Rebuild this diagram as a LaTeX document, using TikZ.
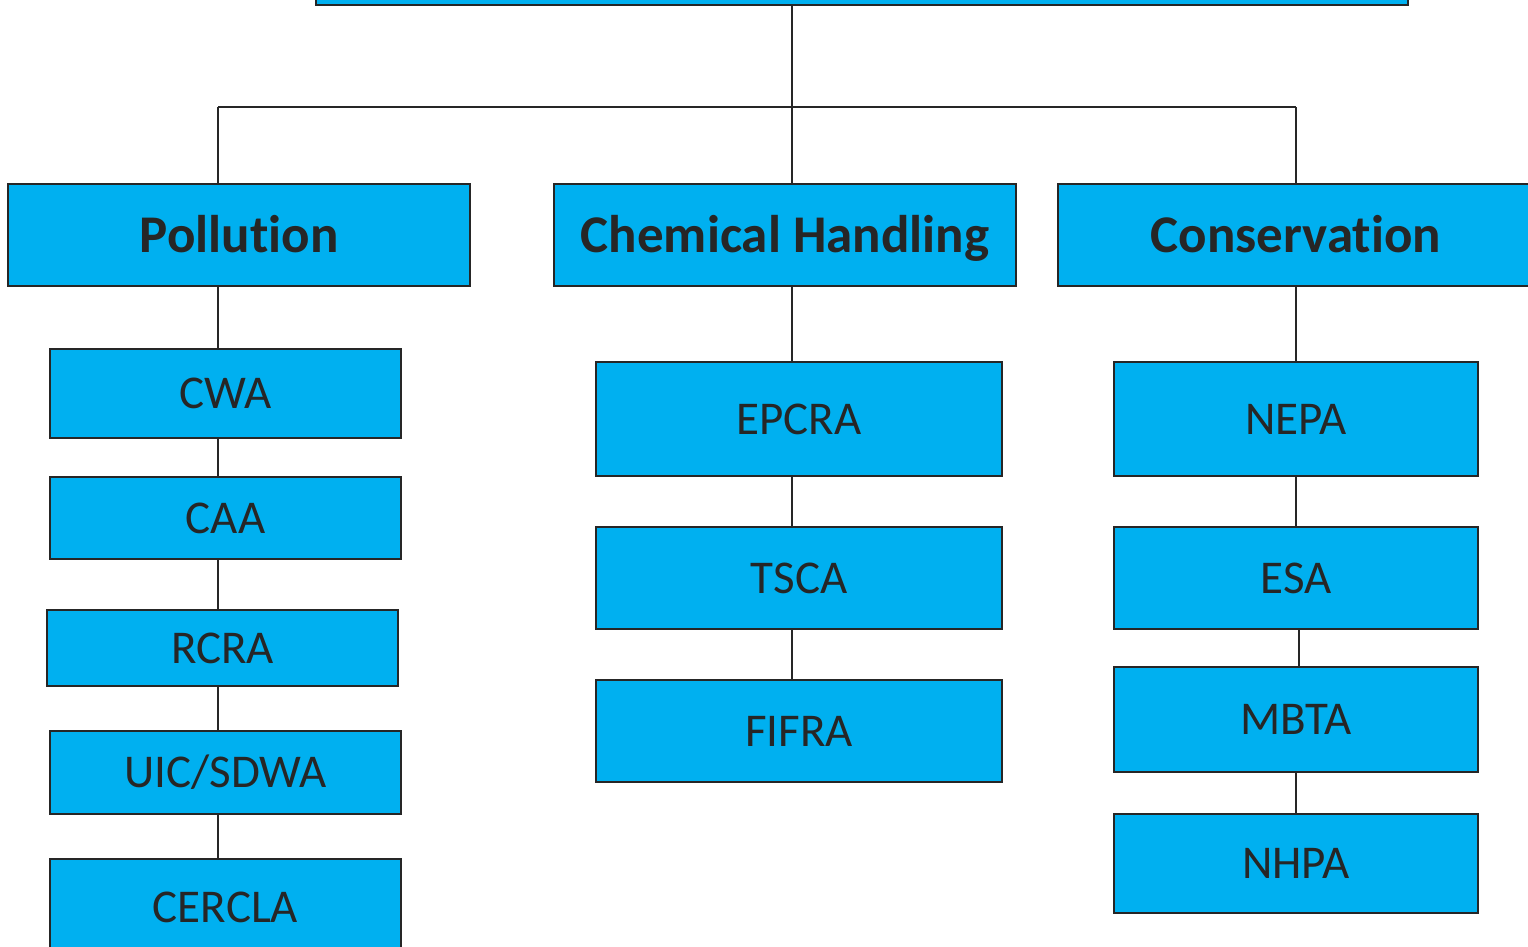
\documentclass[tikz,border=0pt]{standalone}
\usepackage{fontspec}
\setmainfont{Carlito}[Ligatures={NoCommon,NoContextual,NoRare}]
\definecolor{boxfill}{HTML}{00B0F0}
\definecolor{ink}{HTML}{262626}
\begin{document}
\begin{tikzpicture}[x=1pt,y=-1pt,
  box/.style={draw=ink, line width=2.5pt, fill=boxfill, text=ink, inner sep=0pt,
    text depth=0pt, align=center},
  head/.style={box, text height=34pt, font=\fontsize{53}{60}\selectfont\bfseries},
  leaf/.style={box, text height=30.3pt, font=\fontsize{47}{56}\selectfont},
  link/.style={draw=ink, line width=2pt}]
\clip (0,0) rectangle (1528,946);
% top (cut off)
\node[box, minimum width=1092pt, minimum height=200pt] (top) at (862,-95) {};
% heads
\node[head, minimum width=462pt, minimum height=102pt] (pol) at (239,235) {Pollut\kern0pt ion};
\node[head, minimum width=462pt, minimum height=102pt] (chem) at (785,235) {Chemical Handling};
\node[head, minimum width=476pt, minimum height=102pt] (cons) at (1296,235) {Conservat\kern0pt ion};
% pollution column
\node[leaf, minimum width=351pt, minimum height=89pt] (cwa) at (225.5,393.5) {CWA};
\node[leaf, minimum width=351pt, minimum height=82pt] (caa) at (225.5,518) {CAA};
\node[leaf, minimum width=351pt, minimum height=76pt] (rcra) at (222.5,648) {RCRA};
\node[leaf, minimum width=351pt, minimum height=83pt] (uic) at (225.5,772.5) {UIC/SDWA};
\node[leaf, minimum width=351pt, minimum height=96pt] (cercla) at (225.5,907) {CERCLA};
% chemical column
\node[leaf, minimum width=406pt, minimum height=114pt] (epcra) at (799,419) {EPCRA};
\node[leaf, minimum width=406pt, minimum height=102pt] (tsca) at (799,578) {TSCA};
\node[leaf, minimum width=406pt, minimum height=102pt] (fifra) at (799,731) {FIFRA};
% conservation column
\node[leaf, minimum width=364pt, minimum height=114pt] (nepa) at (1296,419) {NEPA};
\node[leaf, minimum width=364pt, minimum height=102pt] (esa) at (1296,578) {ESA};
\node[leaf, minimum width=364pt, minimum height=105pt] (mbta) at (1296,719.5) {MBTA};
\node[leaf, minimum width=364pt, minimum height=99pt] (nhpa) at (1296,863.5) {NHPA};
% bus
\coordinate (busL) at (218,107);
\coordinate (busM) at (792,107);
\coordinate (busR) at (1296,107);
\coordinate (esaL) at (1299,629);
\path[link] (busM |- top.south) -- (busM);
\path[link] (busL) -- (busR);
\path[link] (busL) -- (busL |- pol.north);
\path[link] (busM) -- (busM |- chem.north);
\path[link] (busR) -- (busR |- cons.north);
% pollution links
\path[link] (busL |- pol.south) -- (busL |- cwa.north);
\path[link] (busL |- cwa.south) -- (busL |- caa.north);
\path[link] (busL |- caa.south) -- (busL |- rcra.north);
\path[link] (busL |- rcra.south) -- (busL |- uic.north);
\path[link] (busL |- uic.south) -- (busL |- cercla.north);
% chemical links
\path[link] (busM |- chem.south) -- (busM |- epcra.north);
\path[link] (busM |- epcra.south) -- (busM |- tsca.north);
\path[link] (busM |- tsca.south) -- (busM |- fifra.north);
% conservation links
\path[link] (busR |- cons.south) -- (busR |- nepa.north);
\path[link] (busR |- nepa.south) -- (busR |- esa.north);
\path[link] (esaL |- esa.south) -- (esaL |- mbta.north);
\path[link] (busR |- mbta.south) -- (busR |- nhpa.north);
\end{tikzpicture}
\end{document}
